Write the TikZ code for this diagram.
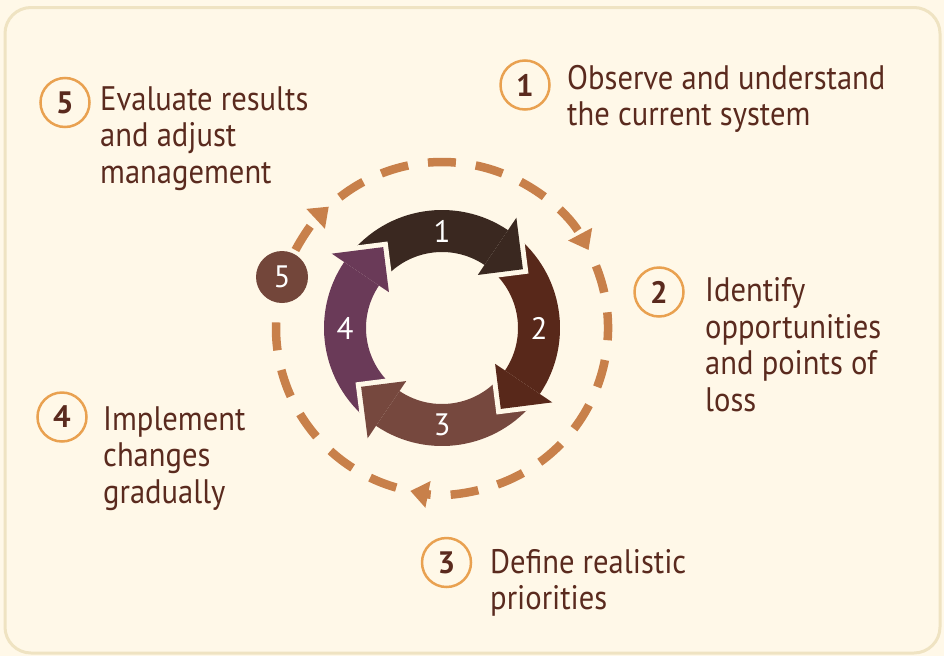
\documentclass[tikz,border=0pt]{standalone}
\usepackage{fontspec}
\setmainfont{PT Sans}[FakeStretch=0.9]
\newfontfamily\digitfont{PT Sans}
\newfontfamily\badgefont{PT Sans Bold}
\usetikzlibrary{arrows.meta}

\definecolor{paper}{HTML}{FFF8E8}
\definecolor{rim}{HTML}{EFE3C2}
\definecolor{ink}{HTML}{5A2A1E}
\definecolor{badge}{HTML}{E9A150}
\definecolor{loopline}{HTML}{C8804A}
\definecolor{stepA}{HTML}{3A2820}
\definecolor{stepB}{HTML}{58281A}
\definecolor{stepC}{HTML}{76483E}
\definecolor{stepD}{HTML}{6A3A58}
\definecolor{dot}{HTML}{73463A}

\tikzset{
  % the anchor sits on the baseline of the last line
  label text/.style={anchor=base west, align=left, text=ink,
    inner sep=0pt, font=\fontsize{34}{36.5}\selectfont},
  numbadge/.style={circle, draw=badge, line width=2.5pt, fill=paper,
    minimum size=49pt, inner sep=0pt, text=ink,
    font=\badgefont\fontsize{31}{31}\selectfont},
  ringnum/.style={text=white, font=\digitfont\fontsize{31}{31}\selectfont},
  loop/.style={loopline, line width=8.5pt, dash pattern=on 28pt off 20pt},
  looptip/.style={-{Triangle[length=18pt, width=26pt]}},
}

% one curved arrow of the cycle, drawn in polar coordinates about the centre
\newcommand{\cycleshaft}[2]{%
  \begin{scope}[shift={(442,-328)}, rotate=#1]
    \fill[#2] (142:118) arc[start angle=142, end angle=56, radius=118]
      -- (56:76) arc[start angle=56, end angle=142, radius=76] -- cycle;
  \end{scope}}
\newcommand{\cyclehead}[2]{%
  \begin{scope}[shift={(442,-328)}, rotate=#1]
    \draw[paper, line width=10pt, line join=miter] (56:133) -- (36:100) -- (56:64);
    \fill[#2] (56:133) -- (36:100) -- (56:64) -- cycle;
  \end{scope}}

\begin{document}
\begin{tikzpicture}[x=1pt, y=1pt]
  \useasboundingbox (0,0) rectangle (944,-656);
  \fill[paper] (0,0) rectangle (944,-656);
  \draw[rim, line width=3pt, fill=paper, rounded corners=26pt] (5,-7.5) rectangle (940,-653);

  \coordinate (C) at (442,-328);

  % dashed outer loop
  \draw[loop, looptip] (C) ++(152:166) arc[start angle=152, end angle=133, radius=166];
  \draw[loop, looptip] (C) ++(128:166) arc[start angle=128, end angle=28, radius=166];
  \draw[loop, looptip] (C) ++(22:166) arc[start angle=22, end angle=-101, radius=166];
  \draw[loop] (C) ++(-106:166) arc[start angle=-106, end angle=-186, radius=166];

  % inner cycle of four arrows
  \cycleshaft{0}{stepA}
  \cycleshaft{-90}{stepB}
  \cycleshaft{-180}{stepC}
  \cycleshaft{-270}{stepD}
  \cyclehead{0}{stepA}
  \cyclehead{-90}{stepB}
  \cyclehead{-180}{stepC}
  \cyclehead{-270}{stepD}

  \node[ringnum] (r1) at ([shift={(90:97)}]C) {1};
  \node[ringnum] (r2) at ([shift={(0:97)}]C) {2};
  \node[ringnum] (r3) at ([shift={(-90:97)}]C) {3};
  \node[ringnum] (r4) at ([shift={(180:97)}]C) {4};

  \node[circle, fill=dot, minimum size=52pt, inner sep=0pt, ringnum] (d5) at (282,-277) {5};

  % numbered steps
  \node[numbadge] (b1) at (525,-85) {1};
  \node[label text] (t1) at (567,-125.5) {Observe and understand\\the current system};
  \node[numbadge] (b2) at (659,-292) {2};
  \node[label text] (t2) at (705,-411) {Identify\\opportunities\\and points of\\loss};
  \node[numbadge] (b3) at (446.5,-562.5) {3};
  \node[label text] (t3) at (490,-609.5) {Define realistic\\priorities};
  \node[numbadge] (b4) at (62,-417) {4};
  \node[label text] (t4) at (103,-503) {Implement\\changes\\gradually};
  \node[numbadge] (b5) at (65,-102.5) {5};
  \node[label text] (t5) at (100,-183) {Evaluate results\\and adjust\\management};
\end{tikzpicture}
\end{document}
